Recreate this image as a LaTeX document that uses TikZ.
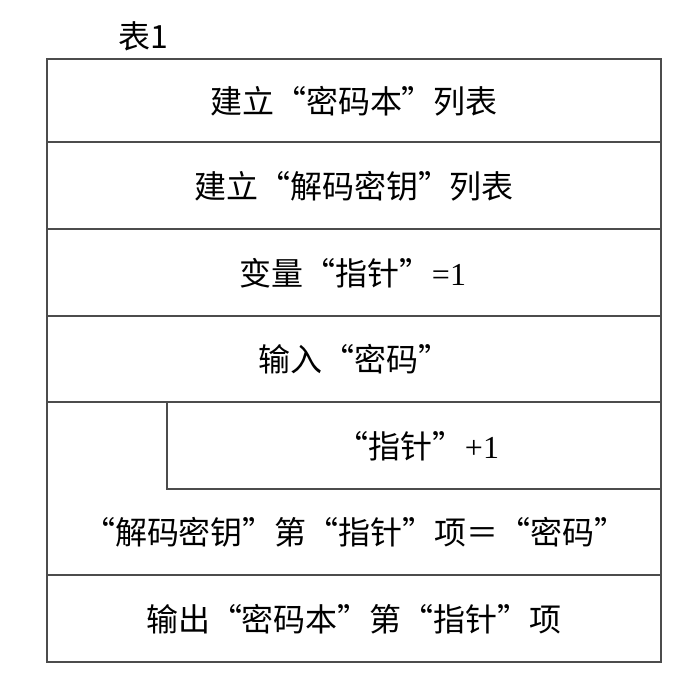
\documentclass[tikz,border=0pt]{standalone}
\usepackage{fontspec}
\setmainfont{Liberation Serif}
\newfontfamily\cjk{Noto Sans CJK SC}
\newcommand{\lat}[1]{{\rmfamily #1}}
\begin{document}
\begin{tikzpicture}[x=1pt,y=-1pt,
  frame/.style={draw=black!70,line width=1.3pt},
  cell/.style={font=\cjk\fontsize{32}{32}\selectfont,inner sep=0pt,anchor=center},
  title/.style={font=\cjk\fontsize{32}{32}\selectfont,inner sep=0pt,anchor=west}]
\useasboundingbox (0,0) rectangle (697,676);
\draw[frame] (47,59) rectangle (661,662);
\draw[frame] (47,142) -- (661,142);
\draw[frame] (47,229) -- (661,229);
\draw[frame] (47,316) -- (661,316);
\draw[frame] (47,402) -- (661,402);
\draw[frame] (167,402) -- (167,489) -- (661,489);
\draw[frame] (47,575) -- (661,575);
\node[title] (t) at (118,36) {表1};
\node[cell] (r1) at (354,101) {建立“密码本”列表};
\node[cell] (r2) at (354,186) {建立“解码密钥”列表};
\node[cell] (r3) at (353,273) {变量“指针”\lat{=1}};
\node[cell] (r4) at (354,359) {输入“密码”};
\node[cell] (r5) at (418,446) {“指针”\lat{+1}};
\node[cell] (r6) at (355,532) {“解码密钥”第“指针”项＝“密码”};
\node[cell] (r7) at (354,619) {输出“密码本”第“指针”项};
\end{tikzpicture}
\end{document}
